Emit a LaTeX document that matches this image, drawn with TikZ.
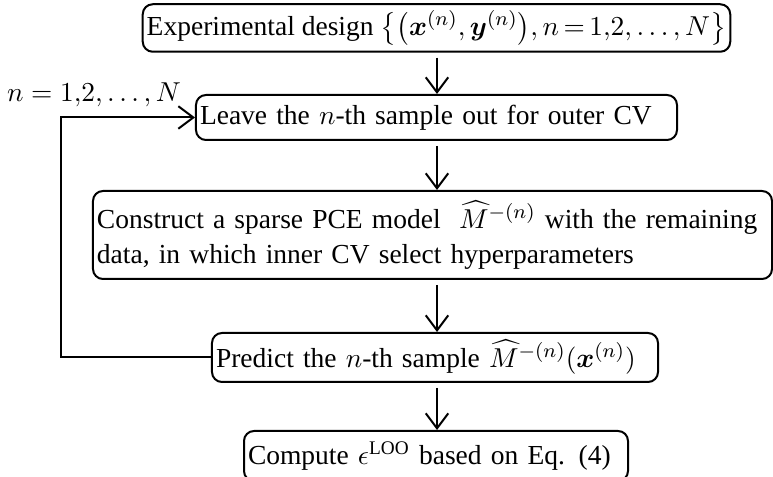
\documentclass[tikz,border=0pt]{standalone}
\usepackage{amsmath,amssymb,bm}
\usepackage{fontspec}
\setmainfont{Liberation Serif}
\usepackage{tikz}
\usetikzlibrary{arrows.meta,positioning,calc}
\tikzset{
  dob/.style={draw,rounded corners=4pt,line width=0.8pt,inner xsep=1.6pt,inner ysep=0pt,align=left},
  nyil/.style={-{Straight Barb[length=6pt,width=9pt]},line width=0.8pt},
}

\begin{document}
\begin{tikzpicture}[x=0.4pt,y=-0.4pt,font=\fontsize{11}{14}\selectfont]
  \clip (0,0) rectangle (773,477);
  \node[dob,minimum width=234pt,minimum height=19pt,align=center] (design) at (436.5,28)
    {Experimental design $\thickmuskip=3mu\medmuskip=2mu
     \bigl\{\bigl(\bm{x}^{(n)},\bm{y}^{(n)}\bigr),n=1{,}2,\ldots,N\bigr\}$};
  \node[dob,text width=189.2pt,minimum height=18pt] (leave) at (436.5,117.5)
    {Leave the $n$-th sample out for outer CV};
  \node[dob,text width=268.4pt,minimum height=35.2pt] (build) at (432.5,235)
    {Construct a sparse PCE model~ $\widehat{M}^{-(n)}$ with the remaining\\
     data, in which inner CV select hyperparameters};
  \node[dob,text width=175.2pt,minimum height=19.6pt] (predict) at (435,357.5)
    {Predict the $n$-th sample $\widehat{M}^{-(n)}(\bm{x}^{(n)})$};
  \node[dob,text width=150.4pt,minimum height=20pt] (loo) at (436,456)
    {Compute $\epsilon^{\mathrm{LOO}}$ based on Eq. (4)};
  \node (idx) at (94,95) {$n=1{,}2,\ldots,N$};
  \coordinate (col) at (437,0);
  \coordinate (corner) at (61,0);
  % arrows down the column
  \draw[nyil,shorten <=2pt] (col |- design.south) -- (col |- leave.north);
  \draw[nyil,shorten <=2pt] (col |- leave.south) -- (col |- build.north);
  \draw[nyil,shorten <=2pt] (col |- build.south) -- (col |- predict.north);
  \draw[nyil,shorten <=2pt] (col |- predict.south) -- (col |- loo.north);
  % outer loop
  \draw[nyil] (predict.west) -| (corner |- leave.west) -- (leave.west);
\end{tikzpicture}
\end{document}
